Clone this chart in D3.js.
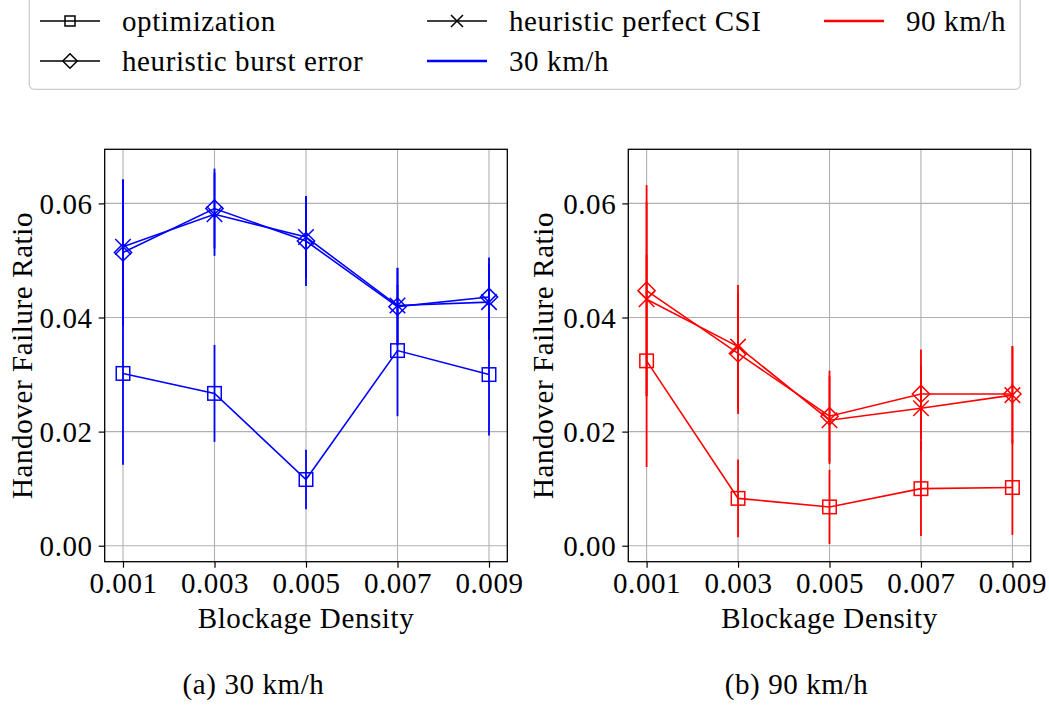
<!DOCTYPE html>
<html>
<head>
<meta charset="utf-8">
<script src="https://cdn.jsdelivr.net/npm/d3@7"></script>
<style>
  html, body { margin: 0; padding: 0; background: #fff; }
  svg text { font-family: "Liberation Serif", "Times New Roman", serif; fill: #000; letter-spacing: 0.6px; }
</style>
</head>
<body>
<svg id="chart" width="1049" height="706"></svg>
<script>
// ---- data ----
const densities = [0.001, 0.003, 0.005, 0.007, 0.009];
const xTickLabels = ["0.001", "0.003", "0.005", "0.007", "0.009"];
const yTicks = [0.00, 0.02, 0.04, 0.06];
const yTickLabels = ["0.00", "0.02", "0.04", "0.06"];

const opt30 = [0.0302, 0.0267, 0.0116, 0.0342, 0.0300];
const opt30Err = [0.0160, 0.0085, 0.0052, 0.0115, 0.0107];
const burst30 = [0.0514, 0.0591, 0.0534, 0.0419, 0.0436];
const burst30Err = [0.0128, 0.0070, 0.0079, 0.0068, 0.0069];
const perfect30 = [0.0524, 0.0581, 0.0541, 0.0421, 0.0427];
const perfect30Err = [0.0118, 0.0073, 0.0072, 0.0066, 0.0067];

const opt90 = [0.0324, 0.0083, 0.0068, 0.0100, 0.0102];
const opt90Err = [0.0186, 0.0068, 0.0065, 0.0083, 0.0083];
const burst90 = [0.0447, 0.0337, 0.0227, 0.0266, 0.0266];
const burst90Err = [0.0185, 0.0106, 0.0080, 0.0078, 0.0084];
const perfect90 = [0.0432, 0.0349, 0.0220, 0.0241, 0.0264];
const perfect90Err = [0.0170, 0.0108, 0.0077, 0.0075, 0.0086];

const methodNames = ["optimization", "heuristic burst error", "heuristic perfect CSI"];
const markerTypes = ["square", "diamond", "x"];
const speedNames = ["30 km/h", "90 km/h"];
const speedColors = ["#0000ff", "#ff0000"];
const captions = ["(a) 30 km/h", "(b) 90 km/h"];
const xLabel = "Blockage Density";
const yLabel = "Handover Failure Ratio";

// ---- layout ----
const svg = d3.select("#chart");
const FONT = 29;
const panels = [
  { left: 104.7, right: 507.3, series: [[opt30, opt30Err], [burst30, burst30Err], [perfect30, perfect30Err]], color: speedColors[0], caption: captions[0], capX: 253.5, ylabX: 32 },
  { left: 628.3, right: 1030.7, series: [[opt90, opt90Err], [burst90, burst90Err], [perfect90, perfect90Err]], color: speedColors[1], caption: captions[1], capX: 796.5, ylabX: 553 }
];
const plotTop = 149.3, plotBottom = 561.7;

function drawMarker(g, type, cx, cy, color, s, dr) {
  if (type === "square") {
    g.append("rect").attr("x", cx - s/2).attr("y", cy - s/2).attr("width", s).attr("height", s)
      .attr("fill", "none").attr("stroke", color).attr("stroke-width", 1.5);
  } else if (type === "diamond") {
    const r = dr;
    g.append("path").attr("d", `M${cx},${cy-r}L${cx+r},${cy}L${cx},${cy+r}L${cx-r},${cy}Z`)
      .attr("fill", "none").attr("stroke", color).attr("stroke-width", 1.5);
  } else {
    const r = s / 2 + 1;
    g.append("path").attr("d", `M${cx-r},${cy-r}L${cx+r},${cy+r}M${cx-r},${cy+r}L${cx+r},${cy-r}`)
      .attr("fill", "none").attr("stroke", color).attr("stroke-width", 1.5);
  }
}

panels.forEach(p => {
  const x = d3.scaleLinear().domain([0.0006, 0.0094]).range([p.left, p.right]);
  const y = d3.scaleLinear().domain([-0.0028, 0.06948]).range([plotBottom, plotTop]);
  const g = svg.append("g");

  // grid
  g.selectAll(".gx").data(densities).enter().append("line")
    .attr("x1", d => x(d)).attr("x2", d => x(d)).attr("y1", plotTop).attr("y2", plotBottom)
    .attr("stroke", "#b0b0b0").attr("stroke-width", 1.1);
  g.selectAll(".gy").data(yTicks).enter().append("line")
    .attr("x1", p.left).attr("x2", p.right).attr("y1", d => y(d)).attr("y2", d => y(d))
    .attr("stroke", "#b0b0b0").attr("stroke-width", 1.1);

  // axes
  const xAxis = d3.axisBottom(x).tickValues(densities).tickFormat((d, i) => xTickLabels[i]).tickSize(6).tickPadding(6);
  const yAxis = d3.axisLeft(y).tickValues(yTicks).tickFormat((d, i) => yTickLabels[i]).tickSize(6).tickPadding(6);
  const gx = g.append("g").attr("transform", `translate(0,${plotBottom})`).call(xAxis);
  const gy = g.append("g").attr("transform", `translate(${p.left},0)`).call(yAxis);
  [gx, gy].forEach(a => {
    a.select(".domain").remove();
    a.selectAll(".tick line").attr("stroke", "#000").attr("stroke-width", 1.2);
    a.selectAll(".tick text").attr("font-size", FONT).attr("font-family", "Liberation Serif").attr("fill", "#000");
  });
  gx.selectAll(".tick text").attr("dy", "0.71em").attr("y", 11);
  gy.selectAll(".tick text").attr("dy", "0.35em");

  // series
  p.series.forEach((s, si) => {
    const vals = s[0], errs = s[1];
    g.selectAll(null).data(vals).enter().append("line")
      .attr("x1", (d, i) => x(densities[i])).attr("x2", (d, i) => x(densities[i]))
      .attr("y1", (d, i) => y(d - errs[i])).attr("y2", (d, i) => y(d + errs[i]))
      .attr("stroke", p.color).attr("stroke-width", 1.8);
    const line = d3.line().x((d, i) => x(densities[i])).y(d => y(d));
    g.append("path").datum(vals).attr("d", line).attr("fill", "none")
      .attr("stroke", p.color).attr("stroke-width", 1.6);
    vals.forEach((d, i) => drawMarker(g, markerTypes[si], x(densities[i]), y(d), p.color, 13.5, 8.6));
  });

  // frame
  g.append("rect").attr("x", p.left).attr("y", plotTop).attr("width", p.right - p.left).attr("height", plotBottom - plotTop)
    .attr("fill", "none").attr("stroke", "#000").attr("stroke-width", 1.3);

  // labels
  g.append("text").attr("x", (p.left + p.right) / 2).attr("y", 628).attr("text-anchor", "middle")
    .attr("font-size", FONT).text(xLabel);
  g.append("text").attr("transform", `translate(${p.ylabX},${(plotTop + plotBottom) / 2}) rotate(-90)`)
    .attr("text-anchor", "middle").attr("font-size", FONT).text(yLabel);
  g.append("text").attr("x", p.capX).attr("y", 694).attr("text-anchor", "middle")
    .attr("font-size", FONT).text(p.caption);
});

// ---- legend ----
const lg = svg.append("g");
lg.append("rect").attr("x", 29.3).attr("y", -6).attr("width", 991).attr("height", 95.3)
  .attr("rx", 5).attr("fill", "#fff").attr("stroke", "#cccccc").attr("stroke-width", 1.3);
const legendItems = [
  { label: methodNames[0], marker: markerTypes[0], color: "#000", col: 0, row: 0 },
  { label: methodNames[1], marker: markerTypes[1], color: "#000", col: 0, row: 1 },
  { label: methodNames[2], marker: markerTypes[2], color: "#000", col: 1, row: 0 },
  { label: speedNames[0], marker: null, color: speedColors[0], col: 1, row: 1 },
  { label: speedNames[1], marker: null, color: speedColors[1], col: 2, row: 0 }
];
const colX = [40, 427, 824];
const rowY = [21, 61];
legendItems.forEach(it => {
  const x0 = colX[it.col], yc = rowY[it.row];
  lg.append("line").attr("x1", x0).attr("x2", x0 + 60).attr("y1", yc).attr("y2", yc)
    .attr("stroke", it.color).attr("stroke-width", it.marker ? 1.6 : 2.6);
  if (it.marker) drawMarker(lg, it.marker, x0 + 30, yc, it.color, 10, 7.2);
  lg.append("text").attr("x", x0 + 82).attr("y", yc + 10).attr("font-size", FONT).text(it.label);
});
</script>
</body>
</html>
